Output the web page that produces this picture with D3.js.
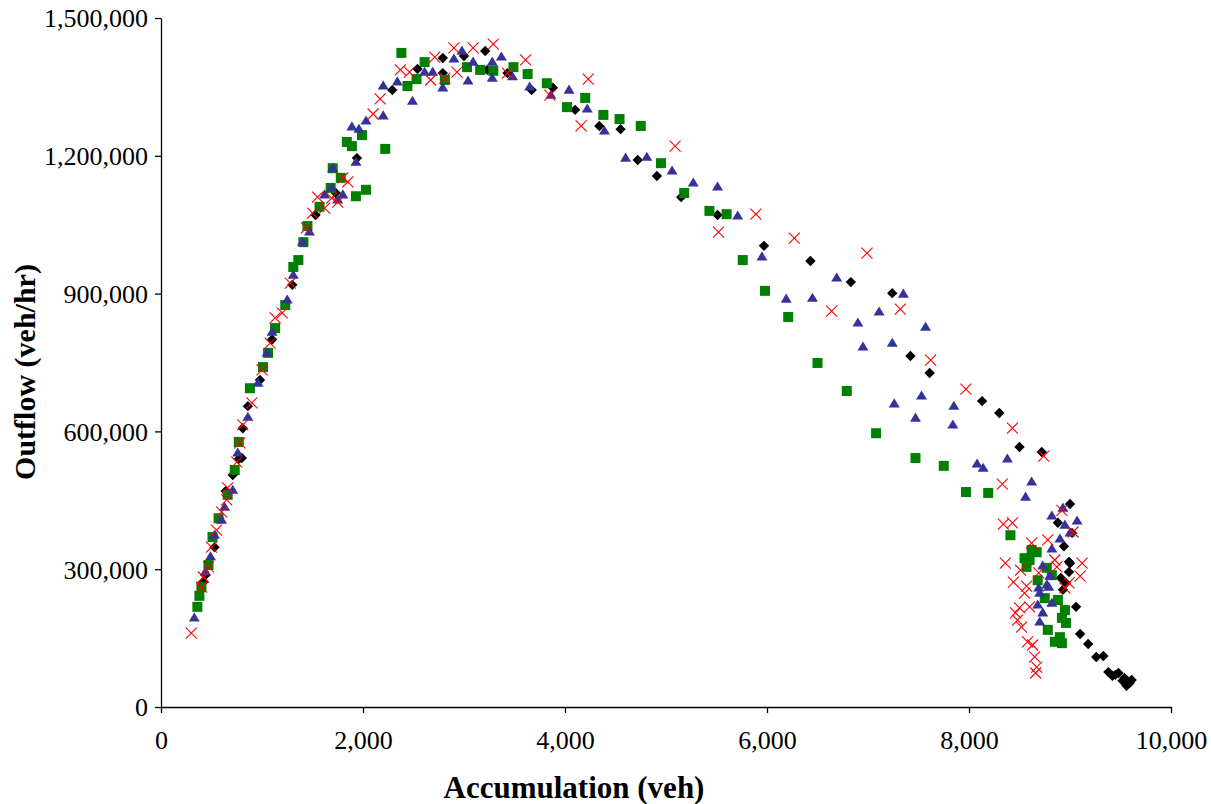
<!DOCTYPE html>
<html>
<head>
<meta charset="utf-8">
<script src="https://cdn.jsdelivr.net/npm/d3@7"></script>
<style>
body{margin:0;background:#fff;}
svg{display:block;font-family:"Liberation Serif","Times New Roman",serif;}
</style>
</head>
<body>
<svg width="1211" height="804"></svg>
<script>
// [accumulation (veh), outflow (veh/hr)]
var seriesBlack=[
[420,272000],[440,287000],[530,348000],[640,470000],[710,505000],[770,540000],[800,542000],[810,607000],[860,655000],[980,712000],
[1100,800000],[1300,919000],[1530,1071000],[1730,1119000],[1940,1195000],[2290,1343000],[2540,1389000],[2790,1413000],[2790,1380000],
[3000,1417000],[3210,1428000],[3230,1387000],[3430,1380000],[3670,1343000],[3880,1348000],[4100,1300000],[4340,1265000],[4550,1258000],
[4720,1191000],[4910,1156000],[5150,1110000],[5510,1071000],[5970,1004000],[6430,971000],[6830,925000],[7240,901000],[7420,764000],
[7610,727000],[8130,666000],[8300,640000],[8500,566000],[8720,555000],[9000,442000],[8880,401000],[9020,379000],[8940,350000],
[8990,316000],[8990,294000],[8910,281000],[8960,270000],[8930,255000],[9000,313000],[9060,218000],[9100,159000],[9180,137000],
[9260,109000],[9330,111000],[9380,76000],[9420,68000],[9450,70000],[9480,74000],[9520,57000],[9540,63000],[9560,46000],[9590,52000],[9610,59000]
];
var seriesBlue=[
[330,194000],[440,294000],[490,327000],[530,374000],[600,407000],[630,435000],[710,472000],[760,553000],[860,631000],[960,705000],
[1050,771000],[1100,816000],[1250,886000],[1310,940000],[1400,1012000],[1470,1034000],[1620,1115000],[1690,1130000],[1700,1173000],
[1750,1104000],[1800,1115000],[1930,1186000],[1890,1263000],[1960,1258000],[2030,1276000],[2200,1352000],[2200,1287000],[2340,1361000],
[2490,1319000],[2610,1382000],[2690,1382000],[2790,1348000],[2900,1411000],[2980,1428000],[3040,1363000],[3090,1404000],[3280,1404000],
[3280,1369000],[3370,1415000],[3480,1372000],[3650,1350000],[3860,1332000],[4040,1343000],[4220,1302000],[4390,1254000],[4600,1195000],
[4810,1197000],[5060,1167000],[5270,1141000],[5510,1132000],[5710,1069000],[5950,980000],[6190,888000],[6450,890000],[6690,934000],
[6900,836000],[7110,860000],[6950,784000],[7240,792000],[7350,899000],[7260,660000],[7470,629000],[7570,827000],[7530,677000],
[7850,655000],[7840,614000],[8080,529000],[8140,520000],[8380,540000],[8620,490000],[8560,457000],[8930,433000],[8820,416000],
[9070,405000],[8950,396000],[9000,379000],[8900,366000],[8820,344000],[8730,307000],[8800,285000],[8770,266000],[8690,259000],
[8820,226000],[8700,248000],[8680,222000],[8730,205000],[8700,185000],[8790,261000]
];
var seriesGreen=[
[360,218000],[380,242000],[400,261000],[470,309000],[510,370000],[570,411000],[660,462000],[730,516000],[770,577000],[880,694000],
[1010,740000],[1060,771000],[1130,825000],[1230,875000],[1310,958000],[1360,973000],[1410,1012000],[1450,1047000],[1570,1089000],
[1680,1130000],[1700,1173000],[1780,1152000],[1840,1230000],[1890,1221000],[1930,1112000],[1990,1245000],[2030,1126000],[2220,1215000],
[2380,1424000],[2440,1352000],[2530,1367000],[2610,1404000],[2810,1365000],[3030,1393000],[3160,1387000],[3290,1385000],[3490,1393000],
[3630,1378000],[3820,1358000],[4020,1306000],[4200,1326000],[4380,1289000],[4540,1280000],[4750,1265000],[4950,1184000],[5180,1119000],
[5430,1080000],[5600,1073000],[5760,973000],[5980,906000],[6210,849000],[6500,749000],[6790,688000],[7080,596000],[7470,542000],
[7750,525000],[7970,468000],[8190,466000],[8410,374000],[8620,342000],[8670,337000],[8550,324000],[8600,320000],[8570,305000],
[8680,276000],[8750,237000],[8880,233000],[8950,211000],[8920,194000],[8960,183000],[8780,168000],[8900,152000],[8850,142000],
[8920,139000],[8820,287000],[8770,303000]
];
var seriesRed=[
[300,161000],[400,261000],[420,283000],[470,305000],[500,348000],[550,385000],[600,425000],[650,451000],[660,477000],[750,533000],
[780,575000],[810,614000],[900,662000],[1000,734000],[1080,792000],[1130,847000],[1200,858000],[1280,923000],[1440,1043000],
[1500,1075000],[1550,1110000],[1620,1086000],[1690,1108000],[1750,1099000],[1800,1152000],[1850,1143000],[2100,1291000],[2170,1324000],
[2370,1387000],[2460,1382000],[2670,1365000],[2710,1415000],[2810,1369000],[2900,1435000],[2930,1382000],[3090,1435000],[3290,1443000],
[3430,1380000],[3610,1409000],[3850,1332000],[4230,1367000],[4160,1265000],[5090,1221000],[5520,1034000],[5890,1073000],[6270,1021000],
[6640,862000],[6990,988000],[7320,866000],[7620,755000],[7970,692000],[8430,607000],[8740,546000],[8330,485000],[8340,398000],
[8430,401000],[8920,428000],[9030,381000],[8620,357000],[8780,364000],[8360,313000],[9120,313000],[8510,298000],[8690,292000],
[9100,285000],[8990,270000],[8440,272000],[8570,263000],[8550,248000],[8950,259000],[8600,218000],[8500,216000],[8460,205000],
[8480,189000],[8520,174000],[8580,142000],[8630,135000],[8650,109000],[8670,87000],[8660,74000],[8850,320000],[8870,305000]
];
var xTicks=[0,2000,4000,6000,8000,10000];
var yTicks=[0,300000,600000,900000,1200000,1500000];
var xTitle="Accumulation (veh)";
var yTitle="Outflow (veh/hr)";

var svg=d3.select("svg");
var x=d3.scaleLinear().domain([0,10000]).range([161,1171]);
var y=d3.scaleLinear().domain([0,1500000]).range([707,18]);
var fmt=d3.format(",");

// axes
var gx=svg.append("g").attr("transform","translate(0,707)")
	.call(d3.axisBottom(x).tickValues(xTicks).tickFormat(fmt).tickSize(6).tickSizeOuter(0));
var gy=svg.append("g").attr("transform","translate(161,0)")
	.call(d3.axisLeft(y).tickValues(yTicks).tickFormat(fmt).tickSize(6).tickSizeOuter(0));
[gx,gy].forEach(function(g){
	g.selectAll("path,line").attr("stroke","#000").attr("stroke-width",1.3);
	g.selectAll("text").attr("fill","#000").style("font-family","Liberation Serif").style("font-size","26px");
});
gx.selectAll("text").attr("dy","1.25em");
gy.selectAll("text").attr("x",-13).attr("dy","0.34em");

// markers
function diamond(r){return "M0,"+(-r)+"L"+r+",0L0,"+r+"L"+(-r)+",0Z";}
function triangle(r){return "M0,"+(-r)+"L"+r+","+(r*0.65)+"L"+(-r)+","+(r*0.65)+"Z";}
function square(r){return "M"+(-r)+","+(-r)+"H"+r+"V"+r+"H"+(-r)+"Z";}
function cross(r){return "M"+(-r)+","+(-r)+"L"+r+","+r+"M"+r+","+(-r)+"L"+(-r)+","+r;}

function drawSeries(data,path,fill,stroke){
	svg.append("g").selectAll("path").data(data).enter().append("path")
		.attr("transform",function(d){return "translate("+x(d[0])+","+y(d[1])+")";})
		.attr("d",path)
		.attr("fill",fill)
		.attr("stroke",stroke||"none")
		.attr("stroke-width",1.1);
}
drawSeries(seriesBlack,diamond(5.2),"#000");
drawSeries(seriesGreen,square(5),"#008000");
drawSeries(seriesBlue,triangle(5.5),"#333399");
drawSeries(seriesRed,cross(5.5),"none","#ff0000");

// titles
svg.append("text").attr("x",574).attr("y",798).attr("text-anchor","middle")
	.style("font-weight","bold").style("font-size","31px").text(xTitle);
svg.append("text").attr("transform","translate(35,372) rotate(-90)").attr("text-anchor","middle")
	.style("font-weight","bold").style("font-size","30px").text(yTitle);
</script>
</body>
</html>
